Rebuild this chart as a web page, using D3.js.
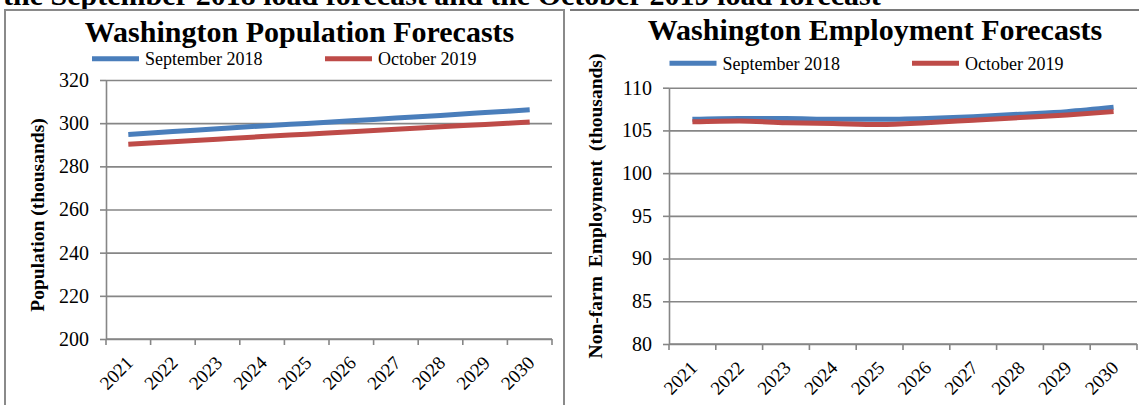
<!DOCTYPE html>
<html>
<head>
<meta charset="utf-8">
<script src="https://cdn.jsdelivr.net/npm/d3@7"></script>
<style>
  html, body { margin: 0; padding: 0; background: #fff; }
  svg, svg text { font-family: "Liberation Serif", "Times New Roman", serif; }
  svg { display: block; }
</style>
</head>
<body>
<script>
// data
var years = ["2021","2022","2023","2024","2025","2026","2027","2028","2029","2030"];
var seriesNames = ["September 2018", "October 2019"];

var popSep2018 = [294.8, 296.1, 297.4, 298.7, 299.9, 301.1, 302.4, 303.6, 304.9, 306.2];
var popOct2019 = [290.2, 291.4, 292.6, 293.8, 294.9, 296.0, 297.2, 298.3, 299.4, 300.5];
var popTicks = [200, 220, 240, 260, 280, 300, 320];

var empSep2018 = [106.3, 106.4, 106.4, 106.3, 106.3, 106.4, 106.6, 106.9, 107.2, 107.7];
var empOct2019 = [106.0, 106.1, 105.9, 105.8, 105.7, 105.9, 106.2, 106.5, 106.8, 107.2];
var empTicks = [80, 85, 90, 95, 100, 105, 110];

var colors = ["#4a7ebb", "#be4b48"],
    gridColor = "#868686",
    serif = "Liberation Serif";

var svg = d3.select("body").append("svg").attr("width", 1139).attr("height", 405);

// cut-off caption line at the very top
svg.append("text")
   .attr("x", 3).attr("y", 5)
   .style("font-weight", "bold").style("font-size", "30px")
   .text("the September 2018 load forecast and the October 2019 load forecast");

// panel frames
svg.append("rect").attr("x", 5).attr("y", 10).attr("width", 559).attr("height", 420)
   .attr("fill", "none").attr("stroke", "#8a8a8a").attr("stroke-width", 2);
svg.append("line").attr("x1", 570).attr("x2", 1139).attr("y1", 10).attr("y2", 10)
   .attr("stroke", "#7a7a7a").attr("stroke-width", 2);

function drawChart(opt){
  var g = svg.append("g");

  var x = d3.scaleBand().domain(years).range([opt.left, opt.right]),
      y = d3.scaleLinear().domain([opt.ticks[0], opt.ticks[opt.ticks.length-1]]).range([opt.bottom, opt.top]);

  // gridlines
  g.append("g").attr("transform", "translate(" + opt.left + ",0)")
   .call(d3.axisLeft(y).tickValues(opt.ticks).tickSize(-(opt.right - opt.left)).tickFormat(""))
   .call(function(s){
     s.select(".domain").remove();
     s.selectAll("line").attr("stroke", gridColor).attr("stroke-width", 1.6);
   });

  // y axis
  g.append("g").attr("transform", "translate(" + opt.left + ",0)")
   .call(d3.axisLeft(y).tickValues(opt.ticks).tickSize(6).tickSizeOuter(0).tickPadding(11))
   .attr("font-family", serif).attr("font-size", 20)
   .call(function(s){
     s.select(".domain").attr("stroke", gridColor).attr("stroke-width", 1.6);
     s.selectAll("line").attr("stroke", gridColor).attr("stroke-width", 1.6);
     s.selectAll("text").attr("fill", "#000");
   });

  // x axis line + ticks at category boundaries
  g.append("line").attr("x1", opt.left).attr("x2", opt.right)
   .attr("y1", opt.bottom).attr("y2", opt.bottom)
   .attr("stroke", gridColor).attr("stroke-width", 1.6);
  var bounds = years.map(function(d){ return x(d); }).concat([opt.right]);
  g.selectAll(".xt").data(bounds).enter().append("line")
   .attr("x1", function(d){ return d; }).attr("x2", function(d){ return d; })
   .attr("y1", opt.bottom).attr("y2", opt.bottom + 6)
   .attr("stroke", gridColor).attr("stroke-width", 1.6);

  // x labels, rotated
  g.selectAll(".xl").data(years).enter().append("text")
   .attr("text-anchor", "end")
   .attr("transform", function(d){
     return "translate(" + (x(d) + x.bandwidth()/2 + 6) + "," + (opt.bottom + 25) + ") rotate(-45)";
   })
   .style("font-family", serif).style("font-size", "19px")
   .text(function(d){ return d; });

  // lines
  var line = d3.line()
    .x(function(d, i){ return x(years[i]) + x.bandwidth()/2; })
    .y(function(d){ return y(d); })
    .curve(d3.curveMonotoneX);
  opt.series.forEach(function(s, i){
    g.append("path").datum(s).attr("d", line)
     .attr("fill", "none").attr("stroke", colors[i]).attr("stroke-width", 5);
  });

  // title
  g.append("text").attr("x", opt.titleX).attr("y", opt.titleY)
   .attr("text-anchor", "middle").style("font-weight", "bold").style("font-size", "30px")
   .text(opt.title);

  // legend
  opt.legend.forEach(function(l, i){
    g.append("line").attr("x1", l[0]).attr("x2", l[0] + 47)
     .attr("y1", l[1]).attr("y2", l[1])
     .attr("stroke", colors[i]).attr("stroke-width", 5);
    g.append("text").attr("x", l[0] + 53).attr("y", l[1] + 6.5)
     .style("font-size", "18px").text(seriesNames[i]);
  });

  // y title
  g.append("text")
   .attr("transform", "translate(" + opt.yLabelX + "," + opt.yLabelY + ") rotate(-90)")
   .attr("text-anchor", "middle").style("font-weight", "bold").style("font-size", "19.5px")
   .style("word-spacing", opt.wordSpacing)
   .text(opt.yLabel);
}

drawChart({
  left: 106, right: 552, top: 80, bottom: 339,
  ticks: popTicks, series: [popSep2018, popOct2019],
  title: "Washington Population Forecasts", titleX: 299.5, titleY: 41.5,
  legend: [[92, 58.7], [325, 58.7]],
  yLabel: "Population (thousands)", yLabelX: 43.5, yLabelY: 215, wordSpacing: "0px"
});

drawChart({
  left: 669, right: 1137, top: 87.7, bottom: 344,
  ticks: empTicks, series: [empSep2018, empOct2019],
  title: "Washington Employment Forecasts", titleX: 875, titleY: 40,
  legend: [[669.5, 63.3], [912, 63.3]],
  yLabel: "Non-farm Employment (thousands)", yLabelX: 601.5, yLabelY: 206, wordSpacing: "4px"
});
</script>
</body>
</html>
